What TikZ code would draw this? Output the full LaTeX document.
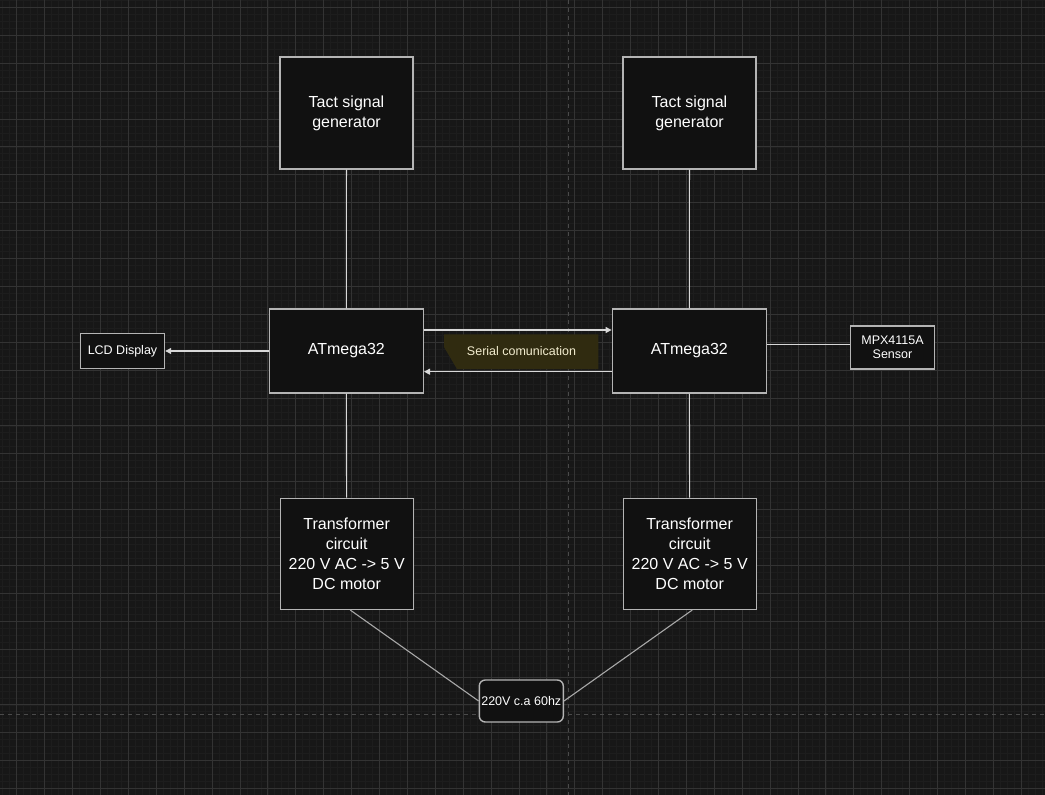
\documentclass[tikz,border=0pt]{standalone}
\usepackage{fontspec}
\setmainfont{Liberation Sans}
\usetikzlibrary{arrows.meta,calc}
\definecolor{bg}{HTML}{171717}
\definecolor{gridminor}{HTML}{1D1D1D}
\definecolor{gridmajor}{HTML}{333333}
\definecolor{boxfill}{HTML}{111111}
\definecolor{boxedge}{HTML}{B4B4B4}
\definecolor{wire}{HTML}{D8D8D8}
\definecolor{diag}{HTML}{A8A8A8}
\definecolor{serialfill}{HTML}{302B10}
\definecolor{serialtext}{HTML}{F2ECCF}
\definecolor{dashc}{HTML}{4A4A4A}
\tikzset{
  block/.style={draw=boxedge, line width=1.4pt, fill=boxfill, text=white, align=center, inner sep=0pt},
  bigtext/.style={font=\fontsize{16}{20}\selectfont},
  smalltext/.style={font=\fontsize{12.5}{14}\selectfont},
  wireline/.style={draw=wire, line width=1.1pt},
  diagline/.style={draw=diag, line width=1.1pt},
  arr/.style={wireline, -{Triangle[length=6pt,width=6pt]}},
}
\begin{document}
\begin{tikzpicture}[x=1pt,y=-1pt]
\useasboundingbox (0,0) rectangle (1045,795);
\fill[bg] (0,0) rectangle (1045,795);
% minor grid
\foreach \i in {-3,...,150} {
  \draw[gridminor, line width=0.6pt] ({16.7+6.975*\i},0) -- ++(0,795);
}
\foreach \i in {-2,...,115} {
  \draw[gridminor, line width=0.6pt] (0,{7.3+6.975*\i}) -- ++(1045,0);
}
% major grid
\foreach \i in {0,...,37} {
  \draw[gridmajor, line width=0.8pt] ({16.7+27.9*\i},0) -- ++(0,795);
}
\foreach \i in {0,...,28} {
  \draw[gridmajor, line width=0.8pt] (0,{7.3+27.9*\i}) -- ++(1045,0);
}
% dashed axes
\draw[dashc, line width=0.8pt, dash pattern=on 4pt off 4pt] (568.3,0) -- (568.3,795);
\draw[dashc, line width=0.8pt, dash pattern=on 4pt off 4pt] (0,714.3) -- (1045,714.3);

% nodes
\node[block, bigtext, minimum width=133pt, minimum height=112pt] (tactL) at (346.5,113) {Tact signal\\generator};
\node[block, bigtext, minimum width=133pt, minimum height=112pt] (tactR) at (689.5,113) {Tact signal\\generator};
\node[block, bigtext, minimum width=154pt, minimum height=84pt] (atL) at (346.3,351) {ATmega32};
\node[block, bigtext, minimum width=154pt, minimum height=84pt] (atR) at (689.3,351) {ATmega32};
\node[block, smalltext, minimum width=84pt, minimum height=35pt] (lcd) at (122.5,351) {LCD Display};
\node[block, smalltext, minimum width=84pt, minimum height=43pt] (sens) at (892.5,347.3) {MPX4115A\\Sensor};
\node[block, bigtext, minimum width=133pt, minimum height=111pt] (trL) at (346.7,553.8) {Transformer\\circuit\\220 V AC -> 5 V\\DC motor};
\node[block, bigtext, minimum width=133pt, minimum height=111pt] (trR) at (689.7,553.8) {Transformer\\circuit\\220 V AC -> 5 V\\DC motor};
\node[block, smalltext, rounded corners=6pt, minimum width=84pt, minimum height=42pt] (ac) at (521.3,701) {220V c.a 60hz};

% serial label
\fill[serialfill] (444,334.3) -- (598.3,334.3) -- (598.3,369) -- (457,369) -- (444,347) -- cycle;
\node[text=serialtext, smalltext, inner sep=0pt] (serial) at (521.5,351.5) {Serial comunication};

% connectors
\draw[wireline] (tactL) -- (atL);
\draw[wireline] (atL) -- (trL);
\draw[wireline] (tactR) -- (atR);
\draw[wireline] (atR) -- (trR);
\draw[arr] ($(atL.east)+(0,-21)$) -- ($(atR.west)+(0,-21)$);
\draw[arr] ($(atR.west)+(0,20.7)$) -- ($(atL.east)+(0,20.7)$);
\draw[arr] (atL.west) -- (lcd.east);
\coordinate (s1) at ($(sens.west)+(0,-3)$);
\draw[wireline] (atR.east |- s1) -- (s1);
\draw[diagline] ($(trL.south)+(3.5,0)$) -- (ac.west);
\draw[diagline] ($(trR.south)+(2.6,0)$) -- (ac.east);
\end{tikzpicture}
\end{document}
